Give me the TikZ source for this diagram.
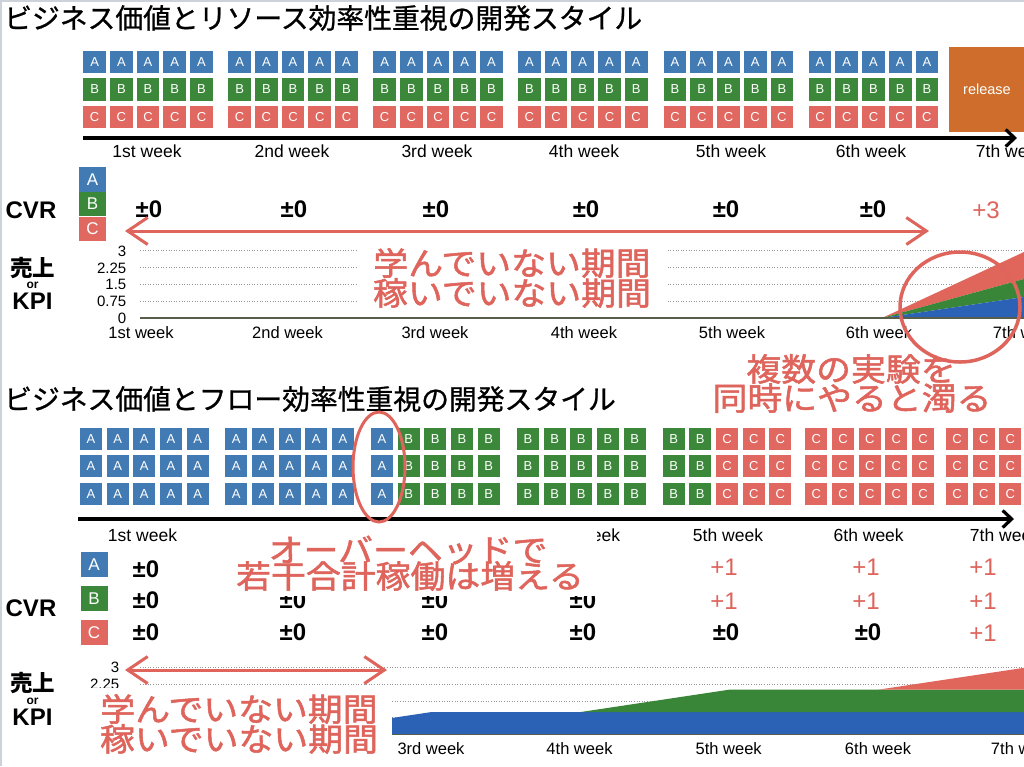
\documentclass[tikz,border=0pt]{standalone}
\usepackage{fontspec}
\setmainfont{Liberation Sans}
\newfontfamily\jp{Noto Sans CJK JP}
\newfontfamily\jpt[FakeBold=0.8]{Noto Sans CJK JP}
\newfontfamily\jpn[FakeBold=1.5]{Noto Sans CJK JP}
\usetikzlibrary{arrows.meta}
\definecolor{cA}{RGB}{66,122,180}
\definecolor{cB}{RGB}{60,136,58}
\definecolor{cC}{RGB}{224,104,96}
\definecolor{rel}{RGB}{207,110,44}
\definecolor{sal}{RGB}{222,100,92}
\definecolor{chB}{RGB}{44,98,182}
\definecolor{chG}{RGB}{58,134,56}
\definecolor{chR}{RGB}{224,102,92}
\definecolor{axisc}{RGB}{85,95,75}
\definecolor{gridc}{RGB}{150,150,150}
\definecolor{framec}{RGB}{205,210,218}
\newcommand\wide[1]{\scalebox{1.09}[1]{#1}}
\begin{document}
\begin{tikzpicture}[x=1pt,y=-1pt,
  box/.style={minimum width=22.7pt,minimum height=22.7pt,inner sep=0pt,text=white,font=\fontsize{13}{13}\selectfont},
  bbox/.style={minimum width=22pt,minimum height=22.5pt,inner sep=0pt,text=white,font=\fontsize{13}{13}\selectfont},
  lgd/.style={minimum width=27pt,minimum height=24.5pt,inner sep=0pt,text=white,font=\fontsize{17}{17}\selectfont},
  title/.style={anchor=west,inner sep=0pt,font=\jpt\fontsize{27.8}{28}\selectfont},
  wk/.style={inner sep=0pt,font=\fontsize{17.5}{18}\selectfont},
  cwk/.style={inner sep=0pt,font=\fontsize{16.5}{17}\selectfont},
  ylab/.style={anchor=east,inner sep=0pt,font=\fontsize{15}{15}\selectfont},
  pm/.style={inner sep=0pt,font=\bfseries\fontsize{24}{24}\selectfont},
  plus/.style={inner sep=0pt,text=sal,font=\fontsize{24}{24}\selectfont},
  big/.style={inner sep=0pt,font=\bfseries\fontsize{24}{24}\selectfont},
  jpbig/.style={inner sep=0pt,font=\jp\bfseries\fontsize{22.5}{23}\selectfont},
  small/.style={inner sep=0pt,font=\bfseries\fontsize{12}{12}\selectfont},
  note/.style={inner sep=0pt,text=sal,font=\jpn\fontsize{32}{32}\selectfont},
  redline/.style={draw=sal,line width=3pt},
  gridl/.style={draw=gridc,line width=0.8pt,dash pattern=on 1pt off 1.6pt},
  axisarrow/.style={line width=3.2pt,-{Straight Barb[length=9pt,width=17pt]}},
  dbl/.style={redline,{Straight Barb[length=20pt,width=27pt]}-{Straight Barb[length=20pt,width=27pt]}},
]
\useasboundingbox (0,0) rectangle (1024,766);
\fill[white] (0,0) rectangle (1024,766);
\draw[framec,line width=2pt] (1,766) -- (1,1) -- (1024,1);

% ---------------- top section ----------------
\node[title] (title1) at (4,18) {ビジネス価値とリソース効率性重視の開発スタイル};

\foreach \g/\gx in {1/83.3,2/228.3,3/373.3,4/518,5/663.7,6/808.7} {
  \foreach \c in {0,...,4} {
    \pgfmathsetmacro\xx{\gx+11.35+26.7*\c}
    \node[box,fill=cA] (ta-\g-\c) at (\xx,62) {A};
    \node[box,fill=cB] (tb-\g-\c) at (\xx,89.5) {B};
    \node[box,fill=cC] (tc-\g-\c) at (\xx,117) {C};
  }
}
\node[fill=rel,minimum width=76pt,minimum height=85pt,inner sep=0pt,text=white,font=\fontsize{14.5}{15}\selectfont] (release) at (987,89.5) {release};

\coordinate (tax0) at (83,138);
\coordinate (tax1) at (1017,138);
\draw[axisarrow] (tax0) -- (tax1);
\foreach \t/\x [count=\i] in {1st week/147,2nd week/292,3rd week/437,4th week/584,5th week/731,6th week/871,7th week/1011}
  \node[wk] (tw\i) at (\x,151) {\t};

\node[big] (cvr1) at (31,210) {CVR};
\node[lgd,fill=cA] (tl-a) at (92.5,179.5) {A};
\node[lgd,fill=cB] (tl-b) at (92.5,204) {B};
\node[lgd,fill=cC] (tl-c) at (92.5,229) {C};
\foreach \x [count=\i] in {149,294,436,586,726,873}
  \node[pm] (tv\i) at (\x,209) {±0};
\node[plus] (tv7) at (986,210) {+3};

% chart 1
\foreach \y in {250.7,267.7,284.3,301}
  \draw[gridl] (140,\y) -- (1024,\y);
\foreach \t/\y [count=\i] in {3/251,2.25/268,1.5/284.5,0.75/301,0/318}
  \node[ylab] (ty\i) at (126.5,\y) {\t};
\coordinate (c1s) at (882,318);
\coordinate (c1r) at (1024,252);
\coordinate (c1g) at (1024,279);
\coordinate (c1b) at (1024,297);
\coordinate (c1e) at (1024,318);
\fill[chR] (c1s) -- (c1r) -- (c1g) -- cycle;
\fill[chG] (c1s) -- (c1g) -- (c1b) -- cycle;
\fill[chB] (c1s) -- (c1b) -- (c1e) -- cycle;
\draw[axisc,line width=1.2pt] (140,318) -- (1024,318);
\foreach \t/\x [count=\i] in {1st week/141,2nd week/287.5,3rd week/435,4th week/584,5th week/732,6th week/879,7th week/1026}
  \node[cwk] (tcw\i) at (\x,333) {\t};

\node[jpbig] (ts1) at (32.5,268) {売上};
\node[small] (tor) at (32.5,285) {or};
\node[big] (tkpi) at (32.5,301) {KPI};

\fill[white] (358,243) rectangle (667,312);
\node[note] (tn1) at (512,263) {\wide{学んでいない期間}};
\node[note] (tn2) at (512,293) {\wide{稼いでいない期間}};

\coordinate (td0) at (125,231);
\coordinate (td1) at (929,231);
\draw[dbl] (td0) -- (td1);

\draw[sal,line width=3.5pt] (960,307) ellipse [x radius=60, y radius=55];
\node[note] (mn1) at (851,369) {\wide{複数の実験を}};
\node[note] (mn2) at (852,398) {\wide{同時にやると濁る}};

% ---------------- bottom section ----------------
\node[title] (title2) at (4,399) {ビジネス価値とフロー効率性重視の開発スタイル};

\foreach \xl/\L [count=\i] in {80/A,106.7/A,133.3/A,160/A,186.7/A,
  225.3/A,252/A,278.7/A,305.3/A,332/A,
  371/A,397.7/B,424.3/B,451/B,477.7/B,
  517/B,543.7/B,570.3/B,597/B,623.7/B,
  662.7/B,689.3/B,716/C,742.7/C,769.3/C,
  805.3/C,832/C,858.7/C,885.3/C,912/C,
  946/C,972.7/C,999.3/C} {
  \pgfmathsetmacro\xx{\xl+11}
  \node[bbox,fill=c\L] (b-\i-1) at (\xx,439) {\L};
  \node[bbox,fill=c\L] (b-\i-2) at (\xx,466) {\L};
  \node[bbox,fill=c\L] (b-\i-3) at (\xx,494) {\L};
}

\coordinate (bax0) at (78,519);
\coordinate (bax1) at (1014,519);
\draw[axisarrow] (bax0) -- (bax1);
\node[wk] (bw1) at (142.5,535) {1st week};
\node[wk] (bw4) at (585,535) {4th week};
\node[wk] (bw5) at (728,535) {5th week};
\node[wk] (bw6) at (868.7,535) {6th week};
\node[wk] (bw7) at (1005,535) {7th week};

\node[big] (cvr2) at (31,608) {CVR};
\node[lgd,fill=cA] (bl-a) at (94,564.5) {A};
\node[lgd,fill=cB] (bl-b) at (94,598.5) {B};
\node[lgd,fill=cC] (bl-c) at (94,632.5) {C};

\node[pm] (va1) at (146,569) {±0};
\node[plus] (va5) at (724,567) {+1};
\node[plus] (va6) at (866,567) {+1};
\node[plus] (va7) at (983,567) {+1};
\foreach \x [count=\i] in {146,293,435,583}
  \node[pm] (vb\i) at (\x,600) {±0};
\node[plus] (vb5) at (724,601) {+1};
\node[plus] (vb6) at (866,601) {+1};
\node[plus] (vb7) at (983,601) {+1};
\foreach \x [count=\i] in {146,293,435,583,726,868}
  \node[pm] (vc\i) at (\x,632) {±0};
\node[plus] (vc7) at (983,633) {+1};

% chart 2
\foreach \y in {667.3,684.1,700.9,717.7}
  \draw[gridl] (140,\y) -- (1024,\y);
\node[ylab] (by1) at (119.5,667.5) {3};
\node[ylab] (by2) at (119.5,684.5) {2.25};
\node[ylab] (by4) at (119.5,718) {0.75};
\coordinate (w2) at (282,734.5);
\coordinate (w3) at (431,712.1);
\coordinate (w4) at (580,712.1);
\coordinate (w5) at (729,689.7);
\coordinate (w6) at (878,689.7);
\coordinate (r7) at (1024,667.8);
\coordinate (g7) at (1024,689.7);
\coordinate (b7) at (1024,712.1);
\coordinate (e7) at (1024,734.5);
\fill[chB] (w2) -- (w3) -- (b7) -- (e7) -- cycle;
\fill[chG] (w4) -- (w5) -- (g7) -- (b7) -- cycle;
\fill[chR] (w6) -- (r7) -- (g7) -- cycle;
\draw[axisc,line width=1pt] (140,734.5) -- (1024,734.5);
\foreach \t/\x [count=\i] in {3rd week/431,4th week/579.5,5th week/728.7,6th week/878,7th week/1024}
  \node[cwk] (bcw\i) at (\x,749) {\t};

\node[jpbig] (bs1) at (32.5,683) {売上};
\node[small] (bor) at (32.5,701) {or};
\node[big] (bkpi) at (32.5,717) {KPI};

% white text panels
\fill[white] (228,523) rectangle (597,596);
\node[note] (on1) at (408,550) {\wide{オーバーヘッドで}};
\node[note] (on2) at (410,576) {\wide{若干合計稼働は増える}};

\fill[white] (88,688) rectangle (392,766);
\node[note] (bn1) at (239,709) {\wide{学んでいない期間}};
\node[note] (bn2) at (239,739) {\wide{稼いでいない期間}};

\coordinate (bd0) at (125,670);
\coordinate (bd1) at (387,670);
\draw[dbl] (bd0) -- (bd1);

\draw[sal,line width=3pt] (379,467) ellipse [x radius=26, y radius=55];
\end{tikzpicture}
\end{document}
